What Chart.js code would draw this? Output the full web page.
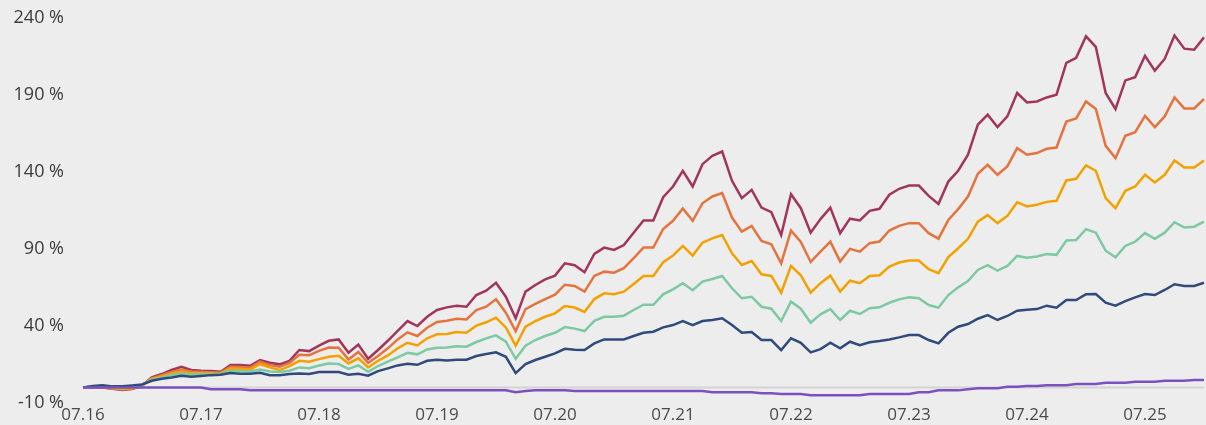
<!DOCTYPE html>
<html>
<head>
<meta charset="utf-8">
<script src="https://cdn.jsdelivr.net/npm/chart.js@4.4.1/dist/chart.umd.min.js"></script>
<style>
  html, body { margin: 0; padding: 0; background: #ededed; }
  #wrap { width: 1206px; height: 425px; }
</style>
</head>
<body>
<div id="wrap"><canvas id="growth" width="1206" height="425"></canvas></div>
<script>
// Monthly categories, July 2016 onwards ("MM.YY")
const startYear = 2016;
const startMonth = 7;
const monthCount = 115;
const months = [];
for (let k = 0; k < monthCount; k++) {
  const m = (startMonth - 1 + k) % 12 + 1;
  const y = startYear + Math.floor((startMonth - 1 + k) / 12);
  months.push(String(m).padStart(2, '0') + '.' + String(y % 100).padStart(2, '0'));
}

// Y axis range and step (percent)
const yMin = -10;
const yMax = 240;
const yStep = 50;

// Cumulative performance in %, one value per month
const seriesCrimson = [
  0, 0.2, 0, -0.8, -1.6, -1, 1.2, 6.6, 8.8, 11.4, 13.5, 11.4, 10.9, 10.7, 10.3, 14.6, 14.6, 14.2, 17.9, 16.1,
  15.1, 17.4, 24.4, 23.7, 27.2, 30.4, 31.3, 22.6, 27.9, 18.7, 24.4, 30.4, 36.9, 43.2, 40, 46, 50.4, 52.1, 53.2, 52.5,
  60.1, 62.9, 68.1, 59, 45, 62.3, 66.6, 70.3, 72.7, 80.7, 79.5, 74.9, 86.8, 90.9, 89.4, 92.6, 100.6, 108.5, 108.5, 123.6,
  130.6, 140.8, 130.6, 145.1, 150.5, 153.3, 134.3, 123, 128.4, 116.9, 113.9, 99.1, 125.6, 116.5, 100.6, 109.4, 116.9, 100.2, 109.7, 108.5,
  114.8, 116.1, 125.2, 129.1, 131.2, 131.2, 124.5, 119.3, 133.8, 140.8, 151.2, 170.7, 177.2, 169.2, 176.1, 191.3, 185.2, 185.8, 188.4, 190.2,
  210.8, 214.1, 228.1, 221.2, 191.3, 180.9, 199.5, 201.6, 215.5, 205.8, 213.4, 228.7, 220.1, 219.4, 227.4
];
const seriesOrange = [
  0, 0.3, 0.3, -0.6, -1.3, -0.7, 1.3, 6, 8, 10.1, 11.8, 10.5, 10.2, 10, 9.7, 13.5, 13.4, 13, 16.8, 14.6,
  13.5, 16.1, 21.3, 21, 23.9, 26, 25.9, 18.3, 23.1, 16.1, 20.5, 25.5, 31.3, 35.9, 33.5, 38.9, 42.6, 43.4, 44.7, 44.3,
  50.4, 52.5, 57.3, 48.6, 36.7, 51, 54.3, 57.5, 60.4, 66.8, 66, 62.3, 72.5, 75.3, 74.6, 77.5, 84, 90.9, 90.9, 103,
  108.3, 116.3, 108.3, 119.7, 124.1, 126.3, 110.4, 101.3, 105, 95.3, 93.1, 80.7, 102, 94.6, 81.6, 88.3, 94.8, 81.8, 90.1, 88.3,
  93.8, 94.8, 102, 105, 106.8, 106.8, 100.3, 96.7, 108.9, 115.9, 124.1, 138.8, 144.7, 138.2, 143.6, 155.5, 151.2, 152.3, 155.1, 155.9,
  172.8, 174.8, 185.8, 180.9, 157, 149, 163.5, 165.9, 176.5, 169.2, 176.1, 188.4, 181.3, 181.3, 187.4
];
const seriesAmber = [
  0, 0.5, 0.6, -0.3, -0.9, -0.4, 1.5, 5.6, 7.3, 9.2, 10.5, 9.5, 9.4, 9.3, 9.2, 12.4, 12.2, 11.8, 15.2, 13.1,
  11.4, 14, 17.4, 16.8, 18.5, 20, 20.7, 15.7, 19, 13.1, 17.4, 20.9, 25.5, 29.1, 27.4, 32, 34.6, 34.8, 36.1, 35.6,
  40.2, 42.4, 45.4, 39.1, 27.2, 39.5, 43.2, 46, 48.2, 53, 52, 49.1, 57.5, 61.2, 60.6, 62.3, 67.3, 72.5, 72.5, 81.4,
  85.7, 92, 85.7, 94.1, 96.9, 99.1, 87.2, 79.6, 82.2, 73.6, 72.5, 61.6, 79, 72.9, 61.6, 67.8, 72.7, 62.3, 69.4, 67.8,
  72.5, 73, 78.6, 81.2, 82.5, 82.5, 76.9, 74.3, 84.7, 90.5, 96.6, 107.8, 112, 106.8, 111.5, 120.4, 117.6, 118.7, 120.6, 121.3,
  134.5, 135.6, 144.3, 140.8, 123, 116.5, 127.8, 130.6, 138.2, 133.2, 138.2, 147.5, 142.9, 142.9, 147.5
];
const seriesGreen = [
  0, 0.7, 1, 0.2, -0.3, 0.3, 1.8, 5, 6.5, 8.1, 9.2, 8.5, 8.6, 8.7, 8.8, 11, 10.8, 10.5, 11.8, 10.5,
  10.1, 11, 13.1, 12.6, 14.4, 15.7, 15.3, 12.2, 14.4, 10.3, 14, 16.8, 19.6, 22.6, 21.6, 24.8, 25.9, 26.1, 26.8, 26.6,
  29.6, 32, 33.9, 29.8, 18.7, 27.2, 30.9, 33.5, 35.6, 39.3, 38.3, 36.7, 43.4, 46, 46, 46.7, 50.4, 53.8, 53.8, 60.6,
  63.8, 67.8, 63.2, 68.8, 70.5, 72.5, 64.5, 58, 59, 52.5, 51.2, 43.2, 55.8, 51.2, 42.1, 47.6, 51, 43.9, 49.9, 47.8,
  51.5, 52.1, 55.1, 57.3, 58.6, 58, 53.6, 51.9, 60.1, 65.1, 69.2, 76.4, 79.5, 75.9, 79, 85.5, 84.4, 85.1, 86.8, 86.2,
  95.5, 95.9, 102.9, 100.6, 88.9, 84.6, 92, 94.8, 100.3, 96.6, 100.6, 107.4, 103.9, 104.5, 107.8
];
const seriesNavy = [
  0, 1, 1.6, 0.8, 0.8, 1.4, 2, 4.4, 5.7, 6.6, 7.7, 7, 7.5, 8.1, 8.3, 9.4, 9, 9, 9.6, 8.1,
  8.1, 8.8, 9.2, 8.8, 10.1, 10.1, 10.1, 8.3, 9, 7.7, 10.7, 12.5, 14.4, 15.5, 14.8, 17.4, 18.1, 17.6, 18.1, 18.1,
  20.5, 21.8, 22.9, 20, 9.4, 15.3, 17.9, 20, 22.2, 25.2, 24.6, 24.4, 28.7, 31.3, 31.3, 31.3, 33.5, 35.6, 36.3, 39.1,
  40.6, 43.2, 40.6, 43.2, 43.9, 45, 40.6, 35.6, 36.1, 30.9, 30.9, 24.4, 32, 29.1, 22.9, 25, 29.1, 25.5, 29.8, 27.6,
  29.4, 30.2, 31.3, 32.6, 34.1, 34.1, 30.9, 28.7, 35.6, 39.5, 41.3, 44.7, 47.1, 43.9, 46.5, 49.9, 50.6, 51, 53.2, 51.9,
  56.9, 56.9, 60.6, 60.8, 55.1, 53.2, 56.2, 58.6, 60.8, 60.1, 63.4, 67.1, 66, 66, 68.1
];
const seriesPurple = [
  0, 0, 0, 0, 0, 0, 0, 0, 0, 0, 0, 0, 0, -1, -1, -1, -1, -1.7, -1.7, -1.7,
  -1.7, -1.7, -1.7, -1.7, -1.7, -1.7, -1.7, -1.7, -1.7, -1.7, -1.7, -1.7, -1.7, -1.7, -1.7, -1.7, -1.7, -1.7, -1.7, -1.7,
  -1.7, -1.7, -1.7, -1.7, -3, -2.2, -1.7, -1.7, -1.7, -1.7, -2.2, -2.2, -2.2, -2.2, -2.2, -2.2, -2.2, -2.2, -2.2, -2.2,
  -2.2, -2.2, -2.2, -2.2, -3, -3, -3, -3, -3, -3.6, -3.6, -4.2, -4.2, -4.2, -5, -5, -5, -5, -5, -5,
  -4.2, -4.2, -4.2, -4.2, -4.2, -3, -3, -1.8, -1.8, -1.8, -1, -0.4, -0.4, -0.4, 0.5, 0.5, 1, 1, 1.6, 1.6,
  1.6, 2.3, 2.3, 2.3, 3.1, 3.1, 3.1, 3.8, 3.8, 3.8, 4.4, 4.4, 4.4, 5, 5
];

// Thin grey baseline at 0 %, drawn through the y scale
const zeroLine = {
  id: 'zeroLine',
  beforeDatasetsDraw(chart) {
    const { ctx, chartArea, scales } = chart;
    const py = scales.y.getPixelForValue(0);
    ctx.save();
    ctx.strokeStyle = '#d3d3d3';
    ctx.lineWidth = 2;
    ctx.beginPath();
    ctx.moveTo(chartArea.left, py);
    ctx.lineTo(chartArea.right, py);
    ctx.stroke();
    ctx.restore();
  }
};

function line(data, color) {
  return {
    data,
    borderColor: color,
    backgroundColor: color,
    borderWidth: 2.5,
    pointRadius: 0,
    pointHoverRadius: 0,
    tension: 0,
    fill: false
  };
}

new Chart(document.getElementById('growth'), {
  type: 'line',
  data: {
    labels: months,
    datasets: [
      line(seriesPurple, '#7b52bd'),
      line(seriesNavy, '#2f4a7b'),
      line(seriesGreen, '#7cc9a2'),
      line(seriesAmber, '#f3a100'),
      line(seriesOrange, '#e5733e'),
      line(seriesCrimson, '#a1355c')
    ]
  },
  options: {
    responsive: false,
    animation: false,
    events: [],
    layout: { padding: { top: 18, right: 0, bottom: 0, left: 0 } },
    plugins: { legend: { display: false }, tooltip: { enabled: false } },
    scales: {
      x: {
        type: 'category',
        offset: false,
        grid: { display: false, drawTicks: false },
        border: { display: false },
        afterFit: (s) => { s.height = 22; },
        ticks: {
          autoSkip: false,
          maxRotation: 0,
          padding: 2,
          color: '#4a4a4a',
          font: { family: 'Open Sans', size: 17 },
          callback: (v, i) => months[i].startsWith('07.') ? months[i] : ''
        }
      },
      y: {
        min: yMin,
        max: yMax,
        // tick marks are hidden; their length only sets the gap beside the labels
        grid: { display: false, drawTicks: true, tickLength: 19 },
        border: { display: false },
        afterFit: (s) => { s.width = 83; },
        ticks: {
          stepSize: yStep,
          padding: 0,
          color: '#3c3c3c',
          font: { family: 'Open Sans', size: 18 },
          callback: (v) => v + ' %'
        }
      }
    }
  },
  plugins: [zeroLine]
});
</script>
</body>
</html>
